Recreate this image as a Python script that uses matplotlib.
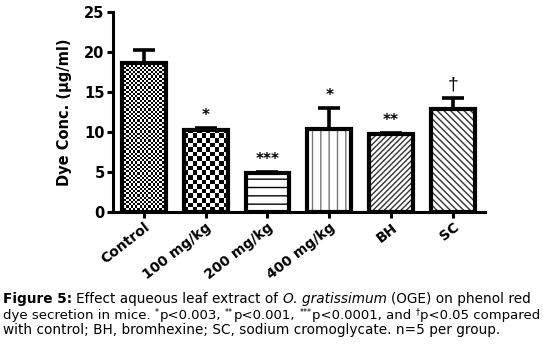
'''
Dye secretion bar chart (Figure 5 recreation).
'''

import matplotlib
matplotlib.use("Agg")
import matplotlib.pyplot as plt
import numpy as np

groups = ["Control", "100 mg/kg", "200 mg/kg", "400 mg/kg", "BH", "SC"]
means = [18.6, 10.3, 4.9, 10.4, 9.7, 12.9]
sem = [1.7, 0.2, 0.1, 2.6, 0.2, 1.3]
marks = ["", "*", "***", "*", "**", "\u2020"]

# caption segments: (text, style, space before); b=bold, i=italic, s=superscript
caption = [
    [("Figure 5:", "b", False), ("Effect aqueous leaf extract of", "n", True),
     ("O. gratissimum", "i", True), ("(OGE) on phenol red", "n", True)],
    [("dye secretion in mice.", "n", False), ("*", "s", True),
     ("p<0.003,", "n", False), ("**", "s", True), ("p<0.001,", "n", False),
     ("***", "s", True), ("p<0.0001, and", "n", False), ("\u2020", "s", True),
     ("p<0.05 compared", "n", False)],
    [("with control; BH, bromhexine; SC, sodium cromoglycate. n=5 per group.",
      "n", False)],
]

plt.rcParams['font.family'] = ['DejaVu Sans']

PX = 8.0  # pixels per data unit on y
W, H = 543, 350


def checker_fill(ax, bar, cell_px, px_per_x):
    " Fill a bar with a black/white checkerboard clipped to it. "
    x0, w, h = bar.get_x(), bar.get_width(), bar.get_height()
    nx = max(1, int(round(w * px_per_x / cell_px)))
    ny = max(1, int(round(h * PX / cell_px)))
    board = np.indices((ny, nx)).sum(axis=0) % 2
    im = ax.imshow(board, cmap="gray", interpolation="nearest", aspect="auto",
                   extent=(x0, x0 + w, 0, ny * cell_px / PX), origin="lower",
                   zorder=1)
    im.set_clip_path(bar)


def rich_line(fig, x_px, base_px, segments, size):
    " Write one caption line from styled segments, left to right. "
    renderer = fig.canvas.get_renderer()
    probe = fig.text(0, 0, "a a", fontsize=size)
    space = probe.get_window_extent(renderer).width
    probe.set_text("aa")
    space -= probe.get_window_extent(renderer).width
    probe.remove()
    x = x_px
    for text, style, gap in segments:
        if gap:
            x += space
        kw = dict(fontsize=size, ha="left", va="baseline")
        y = base_px
        if style == "b":
            kw["fontweight"] = "bold"
        elif style == "i":
            kw["fontstyle"] = "italic"
        elif style == "s":
            kw["fontsize"] = size * 0.6
            y = base_px - 4
        t = fig.text(x / W, 1 - y / H, text, **kw)
        x += t.get_window_extent(renderer).width + (0.5 if style == "s" else 0)


fig = plt.figure(figsize=(W / 100, H / 100), dpi=100)
ax = fig.add_axes([113 / W, 1 - 212 / H, 372 / W, 200 / H])

x = np.arange(len(groups))
width = 0.71
hatches = [None, None, "--", "||", "//////", "\\\\\\\\\\"]
hatch_cols = ["black", "black", "black", "#777777", "#333333", "#333333"]

bars = ax.bar(x, means, width, color="white", edgecolor="none", zorder=1)
for b, ht, hc in zip(bars, hatches, hatch_cols):
    if ht:
        b.set_hatch(ht)
        b.set_edgecolor(hc)
        b.set_linewidth(0)

xlim = (-0.5, 5.52)
px_per_x = 372 / (xlim[1] - xlim[0])
checker_fill(ax, bars[0], 2.2, px_per_x)
checker_fill(ax, bars[1], 4.6, px_per_x)

ax.bar(x, means, width, fill=False, edgecolor="black", linewidth=3.0, zorder=3)
ax.errorbar(x, means, yerr=[np.zeros(len(sem)), sem], fmt="none",
            ecolor="black", elinewidth=2.6, capsize=8, capthick=2.6, zorder=2)

for xi, m, s, t in zip(x, means, sem, marks):
    if t:
        if t == "\u2020":
            ax.text(xi, m + s + 0.6, t, ha="center", va="bottom", fontsize=14,
                    family="Liberation Sans")
        else:
            ax.text(xi, m + s + 0.6, t, ha="center", va="bottom", fontsize=11,
                    fontweight="bold")

ax.set_xlim(*xlim)
ax.set_ylim(0, 25)
ax.set_yticks([0, 5, 10, 15, 20, 25])
ax.set_xticks(x)
ax.set_xticklabels(groups, rotation=38, ha="right", rotation_mode="anchor",
                   fontsize=10, fontweight="bold")
for lbl in ax.get_yticklabels():
    lbl.set_fontweight("bold")
    lbl.set_fontsize(10.5)
ax.set_ylabel("Dye Conc. (\u00b5g/ml)", fontsize=10.5, fontweight="bold",
              labelpad=9)
ax.spines['top'].set_visible(False)
ax.spines['right'].set_visible(False)
for sp in ("left", "bottom"):
    ax.spines[sp].set_linewidth(2.2)
ax.tick_params(width=2.2, length=4, pad=2)

cap_sizes = [9.8, 9.5, 9.8]
for i, segs in enumerate(caption):
    rich_line(fig, 3, 303 + 15.5 * i, segs, cap_sizes[i])

fig.savefig("out.png", dpi=100)
